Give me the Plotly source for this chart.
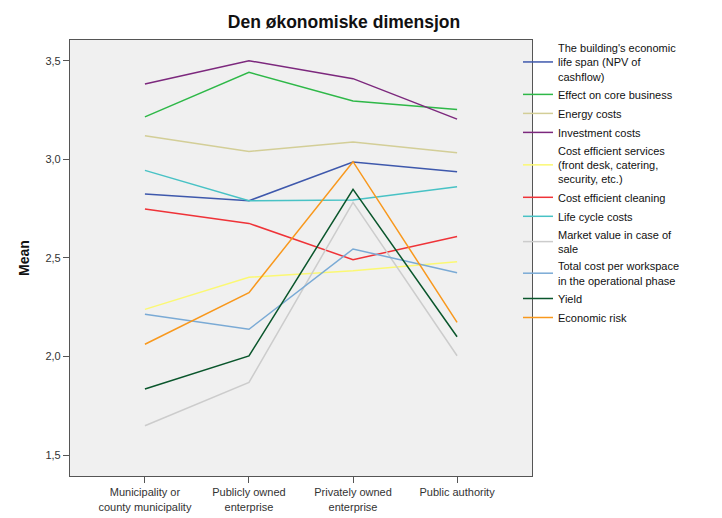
import plotly.graph_objects as go

categories = ["Municipality or<br>county municipality", "Publicly owned<br>enterprise",
              "Privately owned<br>enterprise", "Public authority"]

series_names = [
    "The building's economic<br>life span (NPV of<br>cashflow)",
    "Effect on core business",
    "Energy costs",
    "Investment costs",
    "Cost efficient services<br>(front desk, catering,<br>security, etc.)",
    "Cost efficient cleaning",
    "Life cycle costs",
    "Market value in case of<br>sale",
    "Total cost per workspace<br>in the operational phase",
    "Yield",
    "Economic risk",
]

life_span = [2.824, 2.790, 2.986, 2.937]
core_business = [3.215, 3.441, 3.296, 3.252]
energy_costs = [3.120, 3.040, 3.088, 3.033]
investment_costs = [3.382, 3.500, 3.409, 3.204]
services = [2.239, 2.402, 2.435, 2.481]
cleaning = [2.748, 2.675, 2.491, 2.608]
life_cycle = [2.944, 2.790, 2.794, 2.861]
market_value = [1.649, 1.869, 2.782, 2.004]
workspace_cost = [2.214, 2.138, 2.545, 2.425]
yield_ = [1.835, 2.003, 2.848, 2.100]
economic_risk = [2.062, 2.324, 2.988, 2.173]

series_values = [life_span, core_business, energy_costs, investment_costs, services,
                 cleaning, life_cycle, market_value, workspace_cost, yield_, economic_risk]

colors = ["#3E58AC", "#2EB848", "#D3CE97", "#7C287D", "#FBF873", "#EF3338",
          "#48C2C5", "#CCCCCC", "#7AAAD5", "#0A562C", "#F8981D"]

y_ticks = [1.5, 2.0, 2.5, 3.0, 3.5]

W, H = 706, 510
ML, MT = 62, 32
PW, PH = 462, 436

fig = go.Figure()
for name, vals, col in zip(series_names, series_values, colors):
    fig.add_trace(go.Scatter(
        x=list(range(len(categories))), y=vals, mode="lines", name=name,
        line=dict(color=col, width=1.5),
    ))

axis_common = dict(showline=True, linecolor="#555555", linewidth=1.2, mirror=True,
                   showgrid=False, zeroline=False, ticks="outside", ticklen=6,
                   tickcolor="#555555", automargin=False,
                   tickfont=dict(family="Arial", size=11, color="#333333"))

fig.update_layout(
    width=W, height=H,
    margin=dict(l=ML, r=W - ML - PW, t=MT, b=H - MT - PH, autoexpand=False),
    paper_bgcolor="white", plot_bgcolor="#F0F0F0",
    separators=",.",
    font=dict(family="Arial", size=11, color="#222222"),
    title=dict(text="<b>Den økonomiske dimensjon</b>", x=336 / W, xanchor="center",
               y=1 - 14 / H, yanchor="middle", font=dict(family="Arial", size=17.5, color="#111111")),
    xaxis=dict(tickmode="array", tickvals=list(range(len(categories))), ticktext=categories,
               range=[-0.72, 3.72], **axis_common),
    yaxis=dict(tickmode="array", tickvals=y_ticks, tickformat=".1f", range=[1.394, 3.605],
               title=dict(text="<b>Mean</b>", font=dict(family="Arial", size=14, color="#111111"),
                          standoff=12),
               **axis_common),
    legend=dict(x=(510 - ML) / PW, xanchor="left", y=1 + 6 / PH, yanchor="top",
                bgcolor="rgba(0,0,0,0)", borderwidth=0, maxheight=460,
                font=dict(family="Arial", size=11, color="#111111"),
                tracegroupgap=0, itemwidth=30),
    showlegend=True,
)

fig.write_html("out.html")
